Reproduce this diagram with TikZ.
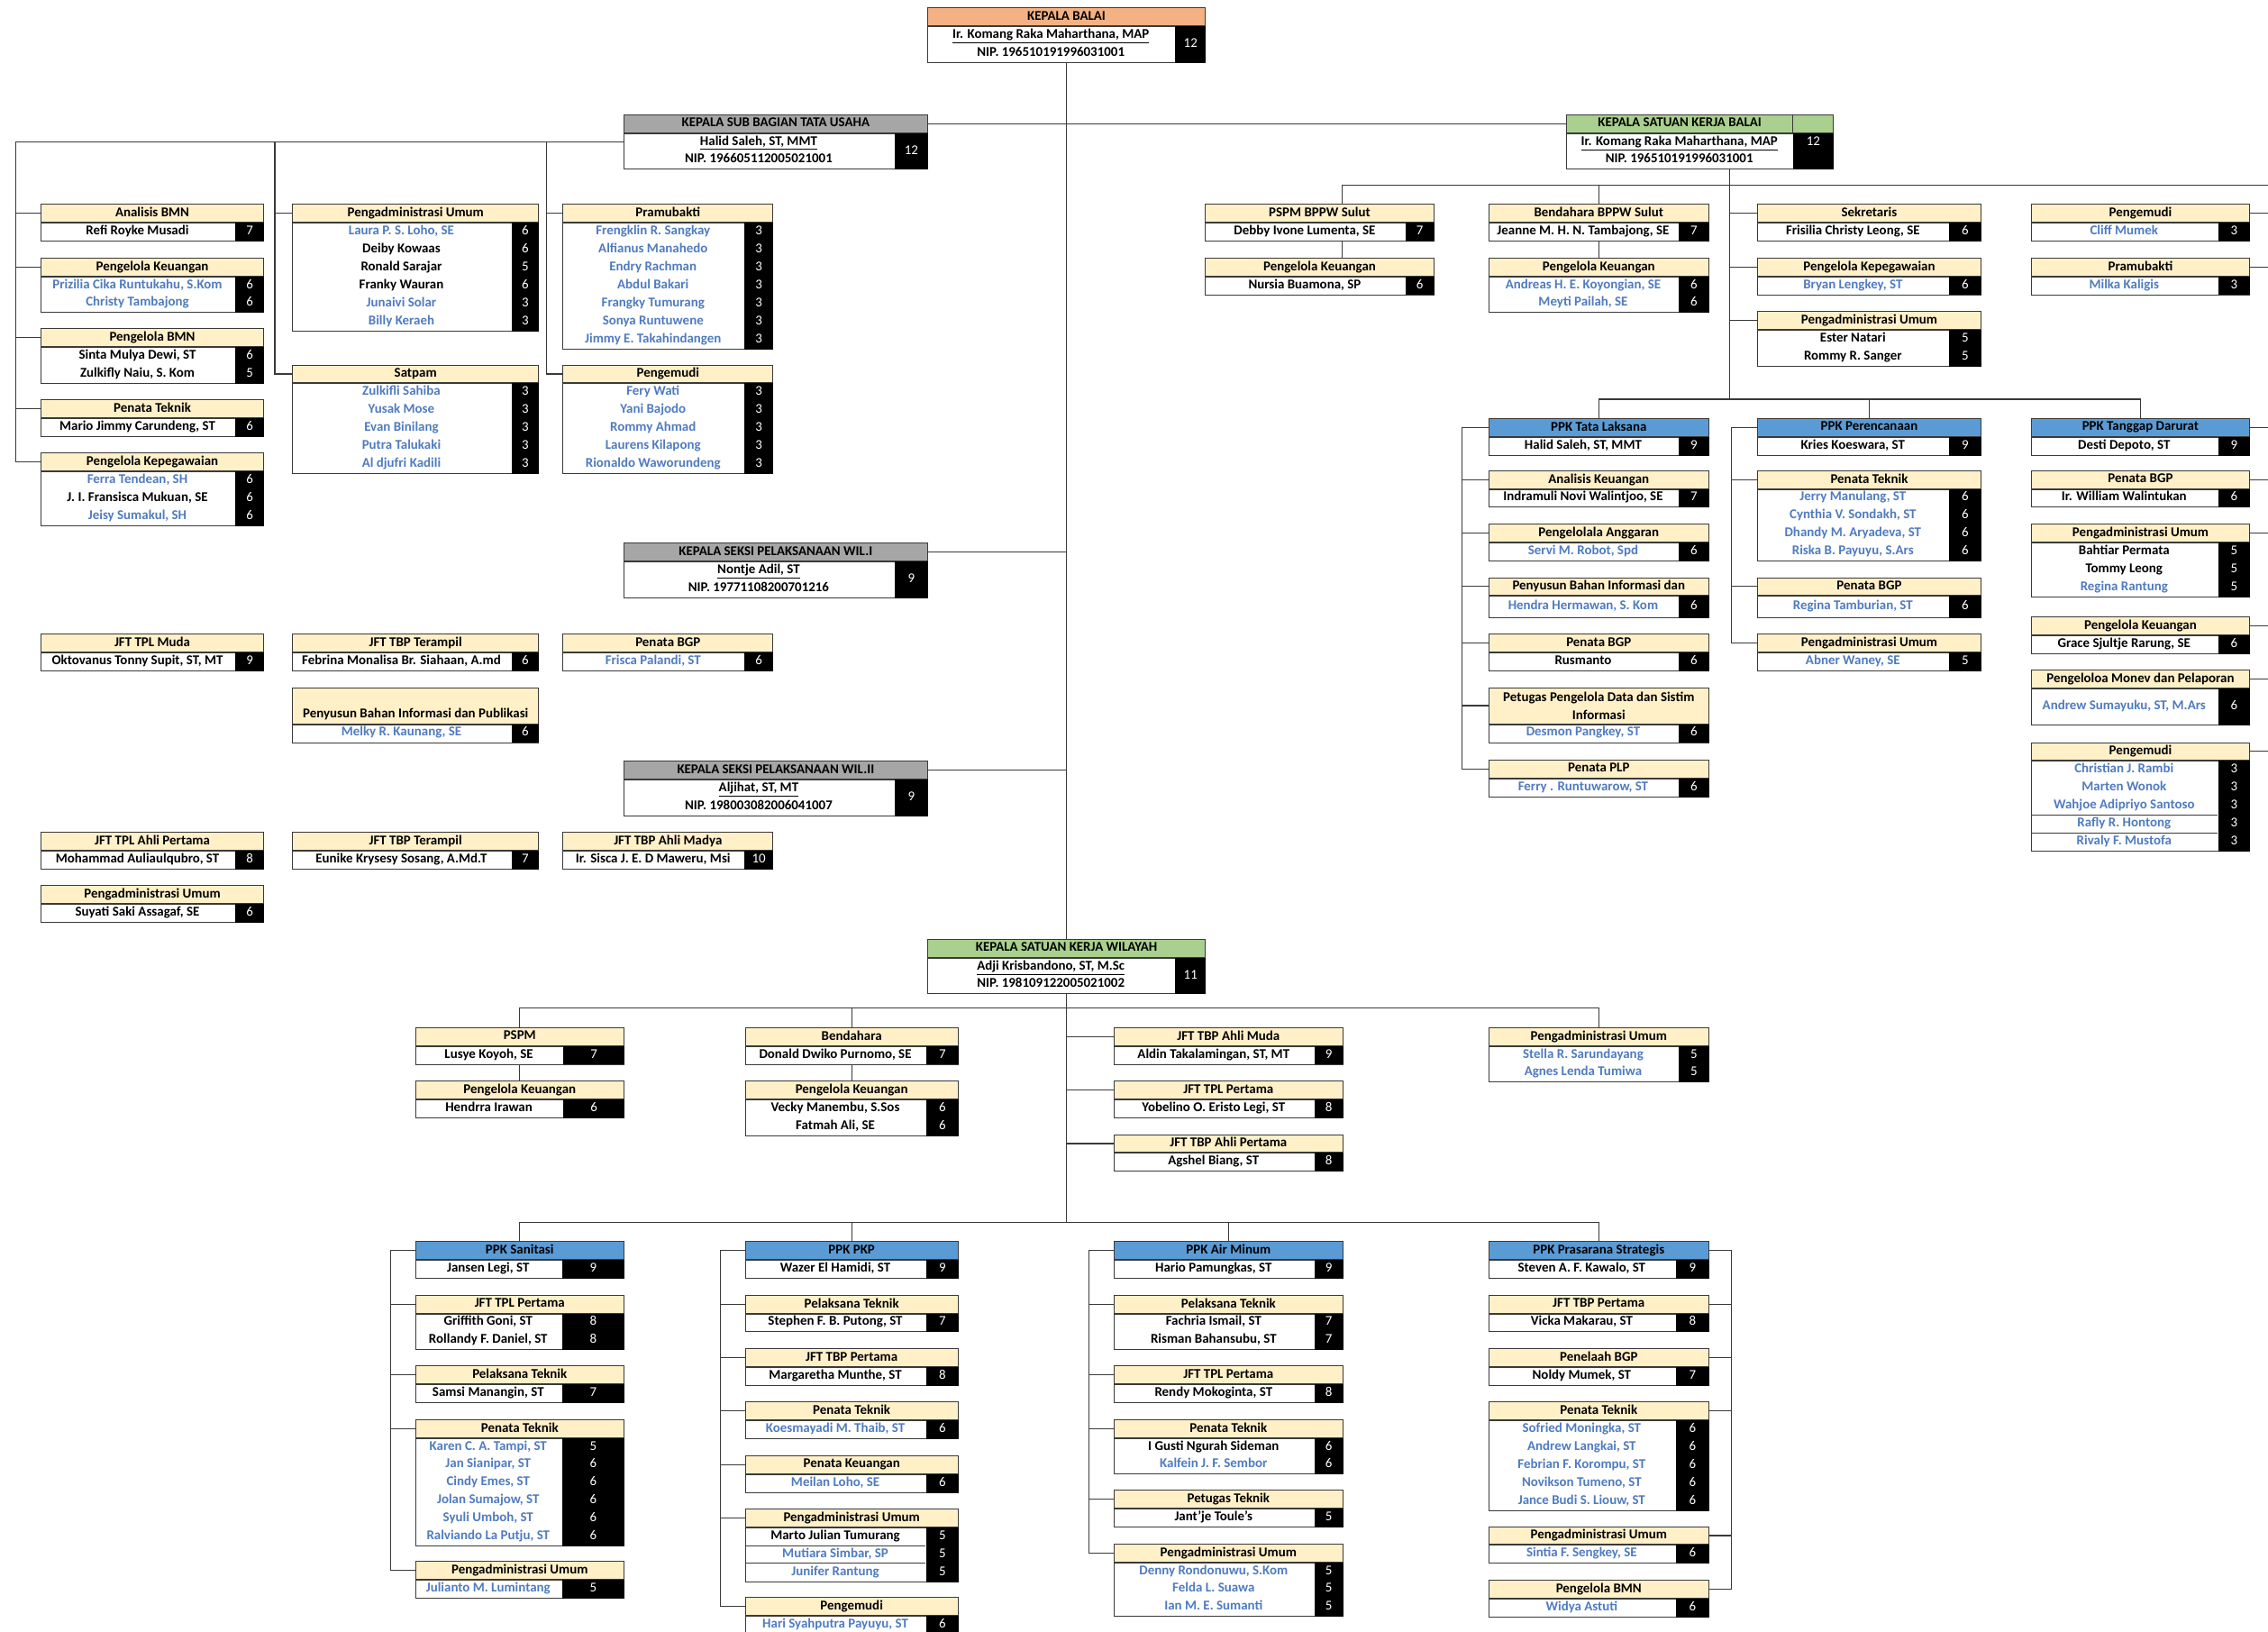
\documentclass[tikz,border=0pt]{standalone}
\usepackage{fontspec}
\setmainfont{Carlito}
\usetikzlibrary{calc}
\definecolor{cream}{HTML}{FFF0C8}
\definecolor{hgray}{HTML}{A6A6A6}
\definecolor{hgreen}{HTML}{A9D08E}
\definecolor{hblue}{HTML}{5B9BD5}
\definecolor{horange}{HTML}{F4B183}
\definecolor{nb}{HTML}{4F7BC0}
\colorlet{nk}{black}
\definecolor{ln}{HTML}{3A3A3A}
\tikzset{
  hdr/.style={draw=ln, line width=0.6pt, inner sep=0pt, anchor=north west, align=center, font=\fontsize{9.3}{12.4}\selectfont\bfseries},
  bodyb/.style={draw=ln, line width=0.6pt, fill=white, inner sep=0pt, anchor=north west},
  txt/.style={inner sep=0pt, text height=6.2pt, text depth=1.9pt, font=\fontsize{9.3}{10}\selectfont\bfseries},
  num/.style={inner sep=0pt, text height=6.2pt, text depth=1.9pt, text=white, font=\fontsize{9.3}{10}\selectfont},
  conn/.style={draw=ln, line width=0.7pt},
}
\newcount\obcnt
\pgfkeys{/ob/.cd,
  w/.store in=\obW, bw/.store in=\obBW, hf/.store in=\obHF,
  hh/.store in=\obHH, rh/.store in=\obRH, ny/.store in=\obNY}
% ordinary box: [options]{name}{x}{y top}{title}{rows}
\newcommand{\obox}[6][]{%
  \pgfkeys{/ob/.cd, w=154, bw=20, hf=cream, hh=12.4, rh=12.4, #1}%
  \global\obcnt=0
  \foreach \x in {#6}{\global\advance\obcnt by 1 }%
  \pgfmathsetmacro\obBH{\the\obcnt*\obRH}%
  \node[hdr, fill=\obHF, minimum width=\obW, minimum height=\obHH] (#2) at (#3,#4) {\vphantom{Pg}#5};%
  \node[bodyb, minimum width=\obW, minimum height=\obBH] (#2-b) at (#2.south west) {};%
  \fill[black] ($(#2-b.north east)+(-\obBW,0)$) rectangle (#2-b.south east);%
  \foreach \nm/\cl/\nu [count=\i] in {#6}{%
    \node[txt, text=\cl] (#2-r\i) at ($(#2-b.north west)+({(\obW-\obBW)/2},{(\i-0.5)*\obRH})$) {\nm};%
    \node[num] (#2-n\i) at ($(#2-b.north east)+({-\obBW/2},{(\i-0.5)*\obRH})$) {\nu};%
  }%
}
% head box: [options]{name}{x}{y top}{title}{person}{NIP}{grade}
\newcommand{\kbox}[8][]{%
  \pgfkeys{/ob/.cd, w=210, bw=23, hf=hgray, hh=12.4, rh=12.4, ny=1, #1}%
  \node[hdr, fill=\obHF, minimum width=\obW, minimum height=\obHH] (#2) at (#3,#4) {\vphantom{Pg}#5};%
  \node[bodyb, minimum width=\obW, minimum height=2*\obRH] (#2-b) at (#2.south west) {};%
  \fill[black] ($(#2-b.north east)+(-\obBW,0)$) rectangle (#2-b.south east);%
  \node[txt] (#2-n) at ($(#2-b.north west)+({(\obW-\obBW)/2},{0.5*\obRH})$) {\underline{#6}};%
  \node[txt] (#2-p) at ($(#2-b.north west)+({(\obW-\obBW)/2},{1.5*\obRH})$) {#7};%
  \node[num] (#2-k) at ($(#2-b.north east)+({-\obBW/2},{\obNY*\obRH})$) {#8};%
}
\begin{document}
\begin{tikzpicture}[x=1pt,y=-1pt]
\fill[white] (0,0) rectangle (1568,1128);
\useasboundingbox (0,0) rectangle (1568,1128);

% ---------- head boxes
\kbox[w=192,bw=21,hf=horange]{kb}{641}{5}{KEPALA BALAI}{Ir. Komang Raka Maharthana, MAP}{NIP. 196510191996031001}{12}
\kbox{tu}{431}{79}{KEPALA SUB BAGIAN TATA USAHA}{Halid Saleh, ST, MMT}{NIP. 196605112005021001}{12}
\kbox[w=184,bw=28,hf=hgreen,ny=0.5]{kskb}{1083}{79}{\hspace*{-28pt}KEPALA SATUAN KERJA BALAI}{Ir. Komang Raka Maharthana, MAP}{NIP. 196510191996031001}{12}
\draw[draw=ln, line width=0.6pt] ($(kskb.north east)+(-28,0)$) -- ($(kskb.south east)+(-28,0)$);
\kbox{ks1}{431}{375}{KEPALA SEKSI PELAKSANAAN WIL.I}{Nontje Adil, ST}{NIP. 19771108200701216}{9}
\kbox{ks2}{431}{526}{KEPALA SEKSI PELAKSANAAN WIL.II}{Aljihat, ST, MT}{NIP. 198003082006041007}{9}
\kbox[w=192,bw=21,hf=hgreen]{kskw}{641}{649}{KEPALA SATUAN KERJA WILAYAH}{Adji Krisbandono, ST, M.Sc}{NIP. 198109122005021002}{11}

% ---------- Tata Usaha staff
\obox{a1}{28}{141}{Analisis BMN}{{Refi Royke Musadi}/nk/7}
\obox{a2}{28}{178}{Pengelola Keuangan}{{Prizilia Cika Runtukahu, S.Kom}/nb/6,{Christy Tambajong}/nb/6}
\obox{a3}{28}{227}{Pengelola BMN}{{Sinta Mulya Dewi, ST}/nk/6,{Zulkifly Naiu, S. Kom}/nk/5}
\obox{a4}{28}{276}{Penata Teknik}{{Mario Jimmy Carundeng, ST}/nk/6}
\obox{a5}{28}{313}{Pengelola Kepegawaian}{{Ferra Tendean, SH}/nb/6,{J. I. Fransisca Mukuan, SE}/nk/6,{Jeisy Sumakul, SH}/nb/6}
\obox[w=170,bw=19]{b1}{202}{141}{Pengadministrasi Umum}{{Laura P. S. Loho, SE}/nb/6,{Deiby Kowaas}/nk/6,{Ronald Sarajar}/nk/5,{Franky Wauran}/nk/6,{Junaivi Solar}/nb/3,{Billy Keraeh}/nb/3}
\obox[w=170,bw=19]{b2}{202}{252}{Satpam}{{Zulkifli Sahiba}/nb/3,{Yusak Mose}/nb/3,{Evan Binilang}/nb/3,{Putra Talukaki}/nb/3,{Al djufri Kadili}/nb/3}
\obox[w=145,bw=20]{c1}{389}{141}{Pramubakti}{{Frengklin R. Sangkay}/nb/3,{Alfianus Manahedo}/nb/3,{Endry Rachman}/nb/3,{Abdul Bakari}/nb/3,{Frangky Tumurang}/nb/3,{Sonya Runtuwene}/nb/3,{Jimmy E. Takahindangen}/nb/3}
\obox[w=145,bw=20]{c2}{389}{252}{Pengemudi}{{Fery Wati}/nb/3,{Yani Bajodo}/nb/3,{Rommy Ahmad}/nb/3,{Laurens Kilapong}/nb/3,{Rionaldo Waworundeng}/nb/3}

% ---------- Seksi staff
\obox{m1}{28}{438}{JFT TPL Muda}{{Oktovanus Tonny Supit, ST, MT}/nk/9}
\obox[w=170,bw=19]{m2}{202}{438}{JFT TBP Terampil}{{Febrina Monalisa Br. Siahaan, A.md}/nk/6}
\obox[w=145,bw=20]{m3}{389}{438}{Penata BGP}{{Frisca Palandi, ST}/nb/6}
\obox[w=170,bw=19,hh=25]{m4}{202}{475}{\mbox{}\\Penyusun Bahan Informasi dan Publikasi}{{Melky R. Kaunang, SE}/nb/6}
\obox{n1}{28}{575}{JFT TPL Ahli Pertama}{{Mohammad Auliaulqubro, ST}/nk/8}
\obox[w=170,bw=19]{n2}{202}{575}{JFT TBP Terampil}{{Eunike Krysesy Sosang, A.Md.T}/nk/7}
\obox[w=145,bw=20]{n3}{389}{575}{JFT TBP Ahli Madya}{{Ir. Sisca J. E. D Maweru, Msi}/nk/10}
\obox{n4}{28}{612}{Pengadministrasi Umum}{{Suyati Saki Assagaf, SE}/nk/6}

% ---------- Satuan Kerja Balai staff
\obox[w=158,bw=20]{pb1}{833}{141}{PSPM BPPW Sulut}{{Debby Ivone Lumenta, SE}/nk/7}
\obox[w=158,bw=20]{pb2}{833}{178}{Pengelola Keuangan}{{Nursia Buamona, SP}/nk/6}
\obox[w=152,bw=21]{bb1}{1029}{141}{Bendahara BPPW Sulut}{{Jeanne M. H. N. Tambajong, SE}/nk/7}
\obox[w=152,bw=21]{bb2}{1029}{178}{Pengelola Keuangan}{{Andreas H. E. Koyongian, SE}/nb/6,{Meyti Pailah, SE}/nb/6}
\obox[w=154,bw=22]{sk1}{1215}{141}{Sekretaris}{{Frisilia Christy Leong, SE}/nk/6}
\obox[w=154,bw=22]{sk2}{1215}{178}{Pengelola Kepegawaian}{{Bryan Lengkey, ST}/nb/6}
\obox[w=154,bw=22]{sk3}{1215}{215}{Pengadministrasi Umum}{{Ester Natari}/nk/5,{Rommy R. Sanger}/nk/5}
\obox[w=151,bw=22]{pg1}{1404}{141}{Pengemudi}{{Cliff Mumek}/nb/3}
\obox[w=151,bw=22]{pg2}{1404}{178}{Pramubakti}{{Milka Kaligis}/nb/3}

\obox[w=152,bw=21,hf=hblue]{tl1}{1029}{289}{PPK Tata Laksana}{{Halid Saleh, ST, MMT}/nk/9}
\obox[w=152,bw=21]{tl2}{1029}{325}{Analisis Keuangan}{{Indramuli Novi Walintjoo, SE}/nk/7}
\obox[w=152,bw=21]{tl3}{1029}{362}{Pengelolala Anggaran}{{Servi M. Robot, Spd}/nb/6}
\obox[w=152,bw=21,rh=14.5]{tl4}{1029}{399}{Penyusun Bahan Informasi dan}{{Hendra Hermawan, S. Kom}/nb/6}
\obox[w=152,bw=21]{tl5}{1029}{438}{Penata BGP}{{Rusmanto}/nk/6}
\obox[w=152,bw=21,hh=25]{tl6}{1029}{475}{Petugas Pengelola Data dan Sistim\\Informasi}{{Desmon Pangkey, ST}/nb/6}
\obox[w=152,bw=21]{tl7}{1029}{525}{Penata PLP}{{Ferry . Runtuwarow, ST}/nb/6}

\obox[w=154,bw=22,hf=hblue]{pr1}{1215}{289}{PPK Perencanaan}{{Kries Koeswara, ST}/nk/9}
\obox[w=154,bw=22]{pr2}{1215}{325}{Penata Teknik}{{Jerry Manulang, ST}/nb/6,{Cynthia V. Sondakh, ST}/nb/6,{Dhandy M. Aryadeva, ST}/nb/6,{Riska B. Payuyu, S.Ars}/nb/6}
\obox[w=154,bw=22,rh=14.5]{pr3}{1215}{399}{Penata BGP}{{Regina Tamburian, ST}/nb/6}
\obox[w=154,bw=22]{pr4}{1215}{438}{Pengadministrasi Umum}{{Abner Waney, SE}/nb/5}

\obox[w=151,bw=22,hf=hblue]{td1}{1404}{289}{PPK Tanggap Darurat}{{Desti Depoto, ST}/nk/9}
\obox[w=151,bw=22]{td2}{1404}{325}{Penata BGP}{{Ir. William Walintukan}/nk/6}
\obox[w=151,bw=22]{td3}{1404}{362}{Pengadministrasi Umum}{{Bahtiar Permata}/nk/5,{Tommy Leong}/nk/5,{Regina Rantung}/nb/5}
\obox[w=151,bw=22]{td4}{1404}{426}{Pengelola Keuangan}{{Grace Sjultje Rarung, SE}/nk/6}
\obox[w=151,bw=22,rh=25]{td5}{1404}{463}{Pengeloloa Monev dan Pelaporan}{{Andrew Sumayuku, ST, M.Ars}/nb/6}
\obox[w=151,bw=22]{td6}{1404}{513}{Pengemudi}{{Christian J. Rambi}/nb/3,{Marten Wonok}/nb/3,{Wahjoe Adipriyo Santoso}/nb/3,{Rafly R. Hontong}/nb/3,{Rivaly F. Mustofa}/nb/3}
\draw[draw=ln, line width=0.6pt] ($(td6-b.north west)+(0,37.2)$) -- ++(129,0);
\draw[draw=ln, line width=0.6pt] ($(td6-b.north west)+(0,49.6)$) -- ++(129,0);

% ---------- Satuan Kerja Wilayah staff
\obox[w=144,bw=42]{w1}{287}{710}{PSPM}{{Lusye Koyoh, SE}/nk/7}
\obox[w=144,bw=42]{w2}{287}{747}{Pengelola Keuangan}{{Hendrra Irawan}/nk/6}
\obox[w=147,bw=22]{w3}{515}{710}{Bendahara}{{Donald Dwiko Purnomo, SE}/nk/7}
\obox[w=147,bw=22]{w4}{515}{747}{Pengelola Keuangan}{{Vecky Manembu, S.Sos}/nk/6,{Fatmah Ali, SE}/nk/6}
\obox[w=158,bw=20]{w5}{770}{710}{JFT TBP Ahli Muda}{{Aldin Takalamingan, ST, MT}/nk/9}
\obox[w=158,bw=20]{w6}{770}{747}{JFT TPL Pertama}{{Yobelino O. Eristo Legi, ST}/nk/8}
\obox[w=158,bw=20]{w7}{770}{784}{JFT TBP Ahli Pertama}{{Agshel Biang, ST}/nk/8}
\obox[w=152,bw=21]{w8}{1029}{710}{Pengadministrasi Umum}{{Stella R. Sarundayang}/nb/5,{Agnes Lenda Tumiwa}/nb/5}

% ---------- PPK groups
\obox[w=144,bw=43,hf=hblue]{s1}{287}{858}{PPK Sanitasi}{{Jansen Legi, ST}/nk/9}
\obox[w=144,bw=43]{s2}{287}{895}{JFT TPL Pertama}{{Griffith Goni, ST}/nk/8,{Rollandy F. Daniel, ST}/nk/8}
\obox[w=144,bw=43]{s3}{287}{944}{Pelaksana Teknik}{{Samsi Manangin, ST}/nk/7}
\obox[w=144,bw=43]{s4}{287}{981}{Penata Teknik}{{Karen C. A. Tampi, ST}/nb/5,{Jan Sianipar, ST}/nb/6,{Cindy Emes, ST}/nb/6,{Jolan Sumajow, ST}/nb/6,{Syuli Umboh, ST}/nb/6,{Ralviando La Putju, ST}/nb/6}
\obox[w=144,bw=43]{s5}{287}{1079}{Pengadministrasi Umum}{{Julianto M. Lumintang}/nb/5}

\obox[w=147,bw=22,hf=hblue]{k1}{515}{858}{PPK PKP}{{Wazer El Hamidi, ST}/nk/9}
\obox[w=147,bw=22]{k2}{515}{895}{Pelaksana Teknik}{{Stephen F. B. Putong, ST}/nk/7}
\obox[w=147,bw=22]{k3}{515}{932}{JFT TBP Pertama}{{Margaretha Munthe, ST}/nk/8}
\obox[w=147,bw=22]{k4}{515}{969}{Penata Teknik}{{Koesmayadi M. Thaib, ST}/nb/6}
\obox[w=147,bw=22]{k5}{515}{1006}{Penata Keuangan}{{Meilan Loho, SE}/nb/6}
\obox[w=147,bw=22]{k6}{515}{1043}{Pengadministrasi Umum}{{Marto Julian Tumurang}/nk/5,{Mutiara Simbar, SP}/nb/5,{Junifer Rantung}/nb/5}
\draw[draw=ln, line width=0.6pt] ($(k6-b.north west)+(0,12.4)$) -- ++(125,0);
\draw[draw=ln, line width=0.6pt] ($(k6-b.north west)+(0,24.8)$) -- ++(125,0);
\obox[w=147,bw=22]{k7}{515}{1104}{Pengemudi}{{Hari Syahputra Payuyu, ST}/nb/6}

\obox[w=158,bw=20,hf=hblue]{r1}{770}{858}{PPK Air Minum}{{Hario Pamungkas, ST}/nk/9}
\obox[w=158,bw=20]{r2}{770}{895}{Pelaksana Teknik}{{Fachria Ismail, ST}/nk/7,{Risman Bahansubu, ST}/nk/7}
\obox[w=158,bw=20]{r3}{770}{944}{JFT TPL Pertama}{{Rendy Mokoginta, ST}/nk/8}
\obox[w=158,bw=20]{r4}{770}{981}{Penata Teknik}{{I Gusti Ngurah Sideman}/nk/6,{Kalfein J. F. Sembor}/nb/6}
\obox[w=158,bw=20]{r5}{770}{1030}{Petugas Teknik}{{Jant'je Toule's}/nk/5}
\obox[w=158,bw=20]{r6}{770}{1067}{Pengadministrasi Umum}{{Denny Rondonuwu, S.Kom}/nb/5,{Felda L. Suawa}/nb/5,{Ian M. E. Sumanti}/nb/5}

\obox[w=152,bw=23,hf=hblue]{q1}{1029}{858}{PPK Prasarana Strategis}{{Steven A. F. Kawalo, ST}/nk/9}
\obox[w=152,bw=23]{q2}{1029}{895}{JFT TBP Pertama}{{Vicka Makarau, ST}/nk/8}
\obox[w=152,bw=23]{q3}{1029}{932}{Penelaah BGP}{{Noldy Mumek, ST}/nk/7}
\obox[w=152,bw=23]{q4}{1029}{969}{Penata Teknik}{{Sofried Moningka, ST}/nb/6,{Andrew Langkai, ST}/nb/6,{Febrian F. Korompu, ST}/nb/6,{Novikson Tumeno, ST}/nb/6,{Jance Budi S. Liouw, ST}/nb/6}
\obox[w=152,bw=23]{q5}{1029}{1055}{Pengadministrasi Umum}{{Sintia F. Sengkey, SE}/nb/6}
\obox[w=152,bw=23]{q6}{1029}{1092}{Pengelola BMN}{{Widya Astuti}/nb/6}

% ---------- connector guides
\coordinate (L1) at (11,0);   \coordinate (L2) at (190,0);  \coordinate (L3) at (378,0);
\coordinate (P1) at (928,0);  \coordinate (R1) at (1196,0); \coordinate (T1) at (1011,0);
\coordinate (E) at (1568,0);
\coordinate (yT) at (0,128);  \coordinate (y2) at (0,276);
\coordinate (yM) at (0,697);  \coordinate (yB) at (0,845);
\coordinate (S1) at (270,0);  \coordinate (K1) at (498,0);  \coordinate (A1) at (753,0);
\coordinate (Q1) at (1197,0);

% ---------- connectors
\draw[conn] (kb-b.south) -- (kskw.north);
\draw[conn] (kskw-b.south) -- (kskw-b.south |- yB);
\draw[conn] (tu.east) -- (kskb.west);
\draw[conn] (ks1.east) -- (ks1.east -| kb-b.south);
\draw[conn] (ks2.east) -- (ks2.east -| kb-b.south);

\draw[conn] (tu-n -| tu-b.west) -- (tu-n -| L1) -- (L1 |- a5.west) -- (a5.west);
\foreach \t in {a1,a2,a3,a4}{\draw[conn] (L1 |- \t.west) -- (\t.west);}
\draw[conn] (tu-n -| L2) -- (L2 |- b2.west) -- (b2.west);
\draw[conn] (L2 |- b1.west) -- (b1.west);
\draw[conn] (tu-n -| L3) -- (L3 |- c2.west) -- (c2.west);
\draw[conn] (L3 |- c1.west) -- (c1.west);

\draw[conn] (P1 |- pb1.north) -- (P1 |- yT) -- (E |- yT);
\draw[conn] (bb1.north) -- (bb1.north |- yT);
\draw[conn] (P1 |- pb1-b.south) -- (P1 |- pb2.north);
\draw[conn] (bb1-b.south) -- (bb2.north);
\draw[conn] (R1 |- kskb-b.south) -- (R1 |- y2);
\foreach \t in {sk1,sk2,sk3}{\draw[conn] (R1 |- \t.west) -- (\t.west);}
\foreach \t in {pg1,pg2}{\draw[conn] (\t.east) -- (E |- \t.east);}
\draw[conn] (tl1.north) -- (tl1.north |- y2) -- (td1.north |- y2) -- (td1.north);
\draw[conn] (pr1.north) -- (pr1.north |- y2);
\draw[conn] (tl1.west) -- (T1 |- tl1.west) -- (T1 |- tl7.west) -- (tl7.west);
\foreach \t in {tl2,tl3,tl4,tl5,tl6}{\draw[conn] (T1 |- \t.west) -- (\t.west);}
\draw[conn] (pr1.west) -- (Q1 |- pr1.west) -- (Q1 |- pr4.west) -- (pr4.west);
\foreach \t in {pr2,pr3}{\draw[conn] (Q1 |- \t.west) -- (\t.west);}
\foreach \t in {td1,td2,td3,td4,td5,td6}{\draw[conn] (\t.east) -- (E |- \t.east);}

\draw[conn] (w1.north) -- (w1.north |- yM) -- (w8.north |- yM) -- (w8.north);
\draw[conn] (w3.north) -- (w3.north |- yM);
\draw[conn] (w1-b.south) -- (w2.north);
\draw[conn] (w3-b.south) -- (w4.north);
\foreach \t in {w5,w6,w7}{\draw[conn] (kskw-b.south |- \t.west) -- (\t.west);}

\draw[conn] (s1.north) -- (s1.north |- yB) -- (q1.north |- yB) -- (q1.north);
\draw[conn] (k1.north) -- (k1.north |- yB);
\draw[conn] (r1.north) -- (r1.north |- yB);
\draw[conn] (s1.west) -- (S1 |- s1.west) -- (S1 |- s5.west) -- (s5.west);
\foreach \t in {s2,s3,s4}{\draw[conn] (S1 |- \t.west) -- (\t.west);}
\draw[conn] (k1.west) -- (K1 |- k1.west) -- (K1 |- k7.west) -- (k7.west);
\foreach \t in {k2,k3,k4,k5,k6}{\draw[conn] (K1 |- \t.west) -- (\t.west);}
\draw[conn] (r1.west) -- (A1 |- r1.west) -- (A1 |- r6.west) -- (r6.west);
\foreach \t in {r2,r3,r4,r5}{\draw[conn] (A1 |- \t.west) -- (\t.west);}
\draw[conn] (q1.east) -- (Q1 |- q1.east) -- (Q1 |- q6.east) -- (q6.east);
\foreach \t in {q2,q3,q4,q5}{\draw[conn] (Q1 |- \t.east) -- (\t.east);}
\end{tikzpicture}
\end{document}
